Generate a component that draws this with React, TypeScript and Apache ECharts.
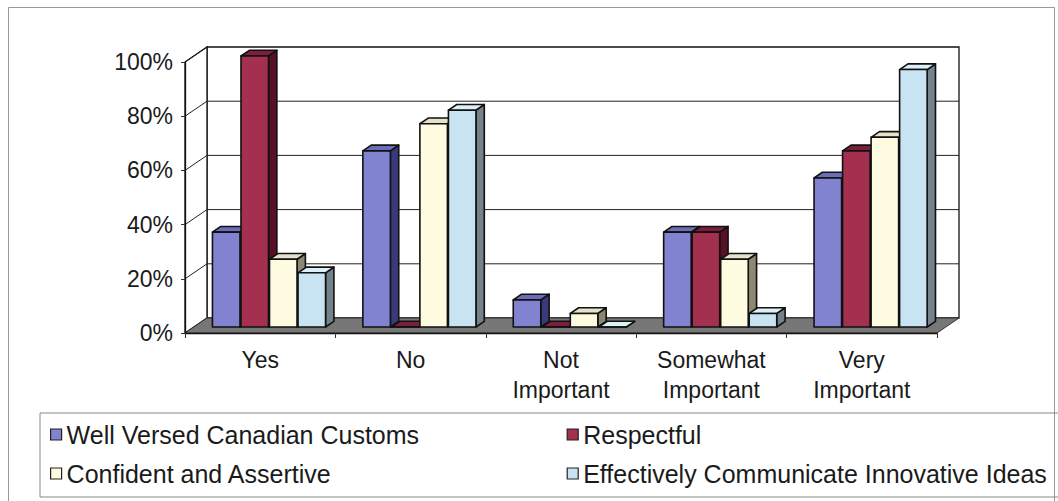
import { useEffect, useRef } from 'react';
import * as echarts from 'echarts';

// Survey answers, in percent of respondents
const categories = ['Yes', 'No', 'Not\nImportant', 'Somewhat\nImportant', 'Very\nImportant'];
const seriesNames = [
  'Well Versed Canadian Customs',
  'Respectful',
  'Confident and Assertive',
  'Effectively Communicate Innovative Ideas',
];
const wellVersed = [35, 65, 10, 35, 55];
const respectful = [100, 0, 0, 35, 65];
const confident = [25, 75, 5, 25, 70];
const communicate = [20, 80, 0, 5, 95];
const percentTicks = [0, 20, 40, 60, 80, 100];

const seriesValues = [wellVersed, respectful, confident, communicate];

// front / top / right-side shades of each column
const palette = [
  { front: '#8183d0', top: '#6c6db8', side: '#393a7c' },
  { front: '#a3304f', top: '#7c1f3a', side: '#561126' },
  { front: '#fffbe0', top: '#e6e1c8', side: '#8c8772' },
  { front: '#c8e3f1', top: '#dcf0fa', side: '#75818b' },
];

const FONT = '"Liberation Sans", Arial, sans-serif';
const TEXT = '#1a1a1a';
const EDGE = '#111';

// projection of the chart's depth onto the page
const DX = 22;
const DY = -15;
const BAR_FRONT = 0.4;
const BAR_BACK = 0.78;

export default function App() {
  const ref = useRef<HTMLDivElement>(null);

  useEffect(() => {
    if (!ref.current) return;
    const chart = echarts.init(ref.current, null, { renderer: 'svg' });

    const frameSeries = {
      type: 'custom',
      name: 'frame',
      z: 1,
      clip: false,
      silent: true,
      data: [[0, 0]],
      encode: { x: 0, y: 1 },
      renderItem: (_params: any, api: any) => {
        const band = api.size([1, 0])[0];
        const first = api.coord([0, 0]);
        const x0 = first[0] - band / 2;
        const x1 = api.coord([categories.length - 1, 0])[0] + band / 2;
        const yBase = first[1];
        const yTop = api.coord([0, 100])[1];
        const children: any[] = [];
        // back wall
        children.push({
          type: 'polygon',
          shape: {
            points: [
              [x0 + DX, yTop + DY],
              [x1 + DX, yTop + DY],
              [x1 + DX, yBase + DY],
              [x0 + DX, yBase + DY],
            ],
          },
          style: { fill: '#fff', stroke: EDGE, lineWidth: 1.3 },
        });
        // side wall
        children.push({
          type: 'polygon',
          shape: {
            points: [
              [x0, yTop],
              [x0 + DX, yTop + DY],
              [x0 + DX, yBase + DY],
              [x0, yBase],
            ],
          },
          style: { fill: '#fff', stroke: EDGE, lineWidth: 1.3 },
        });
        // gridlines on both walls
        percentTicks.forEach((t) => {
          if (t === 0) return;
          const y = api.coord([0, t])[1];
          if (t !== 100) {
            children.push({
              type: 'line',
              shape: { x1: x0 + DX, y1: y + DY, x2: x1 + DX, y2: y + DY },
              style: { stroke: '#222', lineWidth: 1 },
            });
          }
          children.push({
            type: 'line',
            shape: { x1: x0, y1: y, x2: x0 + DX, y2: y + DY },
            style: { stroke: '#222', lineWidth: 1 },
          });
        });
        // floor
        children.push({
          type: 'polygon',
          shape: {
            points: [
              [x0, yBase],
              [x0 + DX, yBase + DY],
              [x1 + DX, yBase + DY],
              [x1, yBase],
            ],
          },
          style: { fill: '#777', stroke: '#333', lineWidth: 1 },
        });
        return { type: 'group', children };
      },
    };

    const barSeries = seriesValues.map((values, k) => ({
      type: 'custom',
      name: seriesNames[k],
      z: 2,
      clip: false,
      itemStyle: { color: palette[k].front },
      data: values.map((v, i) => [i, v]),
      encode: { x: 0, y: 1 },
      renderItem: (_params: any, api: any) => {
        const ci = api.value(0);
        const v = api.value(1);
        const base = api.coord([ci, 0]);
        const top = api.coord([ci, v]);
        const band = api.size([1, 0])[0];
        const bw = band * 0.183;
        const gap = 1;
        const groupW = 4 * bw + 3 * gap;
        const left = base[0] - groupW / 2 + k * (bw + gap) + BAR_FRONT * DX;
        const right = left + bw;
        const yb = base[1] + BAR_FRONT * DY;
        const yt = top[1] + BAR_FRONT * DY;
        const ddx = (BAR_BACK - BAR_FRONT) * DX;
        const ddy = (BAR_BACK - BAR_FRONT) * DY;
        const c = palette[k];
        const stroke = { stroke: EDGE, lineWidth: 1.6, lineJoin: 'round' };
        return {
          type: 'group',
          children: [
            {
              type: 'polygon',
              shape: {
                points: [
                  [right, yt],
                  [right + ddx, yt + ddy],
                  [right + ddx, yb + ddy],
                  [right, yb],
                ],
              },
              style: { fill: c.side, ...stroke },
            },
            {
              type: 'polygon',
              shape: {
                points: [
                  [left, yt],
                  [left + ddx, yt + ddy],
                  [right + ddx, yt + ddy],
                  [right, yt],
                ],
              },
              style: { fill: c.top, ...stroke },
            },
            {
              type: 'rect',
              shape: { x: left, y: yt, width: bw, height: yb - yt },
              style: { fill: c.front, ...stroke },
            },
          ],
        };
      },
    }));

    chart.setOption({
      animation: false,
      backgroundColor: '#fff',
      grid: { left: 185, right: 121, top: 62, bottom: 168 },
      xAxis: {
        type: 'category',
        data: categories,
        boundaryGap: true,
        z: 3,
        axisLine: { show: true, lineStyle: { color: EDGE, width: 1.3 } },
        axisTick: { show: true, length: 5, interval: 0, lineStyle: { color: '#333' } },
        axisLabel: {
          interval: 0,
          margin: 12,
          fontFamily: FONT,
          fontSize: 23,
          lineHeight: 30,
          color: TEXT,
        },
        splitLine: { show: false },
      },
      yAxis: {
        type: 'value',
        min: 0,
        max: 100,
        interval: 20,
        z: 3,
        axisLine: { show: true, lineStyle: { color: EDGE, width: 1.3 } },
        axisTick: { show: true, length: 4, lineStyle: { color: '#333' } },
        axisLabel: {
          formatter: '{value}%',
          margin: 12,
          fontFamily: FONT,
          fontSize: 23,
          color: TEXT,
        },
        splitLine: { show: false },
      },
      legend: {
        data: seriesNames,
        left: 40,
        top: 413,
        width: 1100,
        orient: 'horizontal',
        icon: 'rect',
        itemWidth: 11,
        itemHeight: 11,
        itemGap: 0,
        padding: [2, 0, 4, 10],
        borderColor: '#888',
        borderWidth: 1,
        selectedMode: false,
        itemStyle: { borderColor: '#222', borderWidth: 1.2 },
        textStyle: {
          fontFamily: FONT,
          fontSize: 25,
          color: TEXT,
          width: 500,
          lineHeight: 39,
          overflow: 'none',
        },
      },
      graphic: [
        {
          type: 'rect',
          silent: true,
          z: -1,
          shape: { x: 8.5, y: 7.5, width: 1046, height: 500 },
          style: { fill: 'none', stroke: '#999', lineWidth: 1 },
        },
      ],
      series: [frameSeries, ...barSeries],
    });

    return () => chart.dispose();
  }, []);

  return (
    <div
      ref={ref}
      style={{ position: 'absolute', left: 0, top: 0, width: 1058, height: 501 }}
    />
  );
}
